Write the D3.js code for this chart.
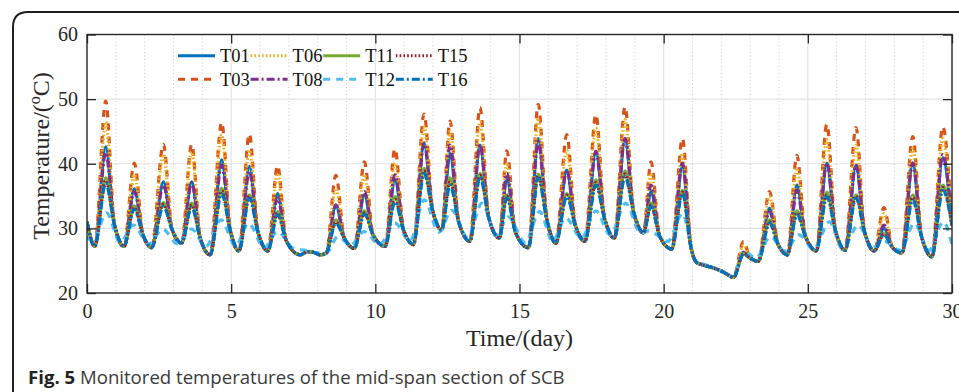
<!DOCTYPE html>
<html><head><meta charset="utf-8">
<script src="https://cdn.jsdelivr.net/npm/d3@7"></script>
<style>html,body{margin:0;padding:0;background:#fff;overflow:hidden}</style>
</head><body>
<svg id="chart" width="959" height="392"></svg>
<script>
// ---------------- DATA ----------------
const keyTimes = [0,0.27,0.65,0.95,1.28,1.64,1.94,2.24,2.65,2.95,3.28,3.63,3.93,4.27,4.67,4.97,5.27,5.63,5.93,6.27,6.61,6.91,
  7.39,7.65,7.85,8.1,8.3,8.63,8.93,9.27,9.62,9.92,10.34,10.68,10.98,11.32,11.69,11.99,12.30,12.59,12.89,13.28,13.63,13.93,
  14.30,14.56,14.86,15.31,15.65,15.95,16.26,16.64,16.94,17.27,17.65,17.95,18.29,18.66,18.96,19.30,19.56,19.86,20.28,20.65,20.95,
  21.15,21.4,21.78,22.0,22.2,22.42,22.77,23.0,23.28,23.67,23.97,24.29,24.62,24.92,25.29,25.66,25.96,26.29,26.67,26.97,
  27.30,27.64,27.94,28.26,28.64,28.94,29.30,29.68,30.0];
// shared trough / evening values (null = daily peak, taken from each series' peak list)
const sharedTemps = [31.0,27.2,null,30.6,27.2,null,29.0,27.0,null,29.8,27.7,null,28.4,25.9,null,29.6,26.5,null,29.4,26.5,null,28.1,
  25.9,26.4,26.3,25.9,26.2,null,28.4,26.9,null,29.0,27.2,null,29.7,27.5,null,32.7,29.75,null,31.0,28.0,null,31.7,
  28.5,null,29.4,27.0,null,31.3,27.7,null,30.4,28.0,null,31.5,28.5,null,32.5,29.3,null,28.8,26.8,null,27.0,
  24.7,24.3,23.8,23.4,22.9,22.4,null,25.4,24.9,null,27.5,25.9,null,28.7,26.5,null,29.6,26.6,null,29.4,
  26.5,null,27.0,26.2,null,28.8,25.6,null,30.5];
const peakT01 = [42.6,36.1,37.2,37.2,40.6,39.6,35.4,33.6,35.2,37.5,43.2,41.6,42.9,37.8,43.9,39.0,41.9,43.9,35.7,39.6,26.3,33.1,36.7,40.1,39.8,30.0,40.1,40.9];
const peakT03 = [49.7,40.1,43.0,43.0,46.4,44.6,39.7,38.2,40.3,42.3,47.7,46.6,48.7,42.0,49.2,44.5,47.6,48.8,40.3,43.9,28.0,35.7,41.3,46.1,45.6,33.2,44.2,45.7];
const peakT06 = [46.5,38.3,41.4,41.8,44.5,42.1,38.5,36.2,38.3,40.1,45.7,45.0,46.5,40.1,47.0,42.1,45.5,46.8,38.5,41.6,27.4,34.9,39.3,43.7,42.9,32.3,42.4,43.9];
const peakT08 = [41.7,35.7,36.7,37.1,39.8,38.8,34.7,33.6,35.7,38.3,43.2,42.9,42.9,38.5,43.4,39.0,41.9,43.9,36.7,40.1,26.3,32.6,35.9,40.1,39.8,30.5,40.1,41.4];
const peakT11 = [37.8,33.5,34.0,33.9,36.2,35.2,32.6,31.3,32.7,34.9,39.3,37.8,38.5,35.2,38.4,35.4,37.5,38.9,33.9,35.9,26.1,31.3,32.7,35.6,35.2,29.2,35.2,36.7];
const peakT15 = [37.4,33.2,33.7,33.6,35.8,35.0,32.4,31.0,32.4,34.5,38.9,37.2,38.2,35.0,38.1,35.1,37.1,38.4,33.6,35.6,26.1,31.0,32.4,35.2,35.0,29.1,34.8,36.3];
const peakT16 = [37.0,33.0,33.4,33.3,35.4,34.7,32.1,30.8,32.2,34.1,38.5,36.7,38.0,34.7,37.8,34.9,36.7,38.0,33.4,35.4,26.0,30.8,32.1,34.9,34.7,29.0,34.4,35.9];
// T12 has its own smoother, lower curve
const timesT12 = [0,0.2,0.68,1.15,1.6,2.15,2.62,3.15,3.62,4.12,4.65,5.15,5.6,6.15,6.6,7.2,7.6,8.0,8.3,8.7,9.15,9.6,10.15,10.68,
  11.2,11.7,12.2,12.65,13.2,13.7,14.2,14.6,15.2,15.7,16.15,16.6,17.15,17.65,18.15,18.68,19.2,19.5,20.15,20.65,21.1,21.5,21.8,
  22.1,22.4,22.8,23.2,23.7,24.2,24.7,25.2,25.75,26.2,26.75,27.25,27.65,28.2,28.7,29.2,29.7,30.0];
const tempsT12 = [28.7,28.0,32.4,27.8,30.5,27.6,29.9,27.6,29.9,27.2,31.3,27.3,30.8,27.0,29.5,26.8,26.6,26.2,26.2,28.7,27.4,29.5,27.5,30.8,
  28.0,34.4,29.4,32.8,28.6,33.9,28.8,31.8,27.8,32.6,28.0,31.6,28.5,32.7,29.0,33.9,29.3,29.6,28.0,32.3,25.0,24.3,23.8,
  23.1,22.6,26.4,25.4,28.7,26.5,29.0,26.8,31.0,26.8,30.5,27.0,28.0,26.6,30.8,26.6,31.0,27.4];

const seriesNames = ["T01","T03","T06","T08","T11","T12","T15","T16"];
const seriesColors = ["#0072BD","#D95319","#EDB120","#7E2F8E","#77AC30","#4DBEEE","#A2142F","#0072BD"];
const legendRows = [["T01","T06","T11","T15"],["T03","T08","T12","T16"]];
const xTicks = [0,5,10,15,20,25,30];
const yTicks = [20,30,40,50,60];
const xMinor = d3.range(0,31,1);
const xLabel = "Time/(day)";
const caption = ["Fig. 5", " Monitored temperatures of the mid-span section of SCB"];

// ---------------- BUILD ----------------
function buildMain(peaks){
  let k = 0;
  return keyTimes.map((t,i)=>({t, v: sharedTemps[i]===null ? peaks[k++] : sharedTemps[i]}));
}
const seriesData = {
  T01: buildMain(peakT01), T03: buildMain(peakT03), T06: buildMain(peakT06), T08: buildMain(peakT08),
  T11: buildMain(peakT11), T15: buildMain(peakT15), T16: buildMain(peakT16),
  T12: timesT12.map((t,i)=>({t, v: tempsT12[i]}))
};
const dashes = {T01:null, T03:"7,6", T06:"1.6,2.2", T08:"8,3,2,3", T11:null, T12:"7,6", T15:"1.6,2.2", T16:"8,3,2,3"};

// ---------------- DRAW ----------------
const svg = d3.select("#chart");
const L=87, R=952, T=34.5, B=293;
const x = d3.scaleLinear().domain([0,30]).range([L,R]);
const y = d3.scaleLinear().domain([20,60]).range([B,T]);
const serif = "'Liberation Serif','Times New Roman',serif";

// outer frame
svg.append("path").attr("d","M13,400 L13,27 Q13,12 28,12 L970,12")
  .attr("fill","none").attr("stroke","#1e1e1e").attr("stroke-width",2);

// grid
const g = svg.append("g");
g.selectAll(".minor").data(xMinor.filter(d=>d%5!==0)).join("line")
  .attr("x1",d=>x(d)).attr("x2",d=>x(d)).attr("y1",T).attr("y2",B)
  .attr("stroke","#cccccc").attr("stroke-width",1).attr("stroke-dasharray","1,2.5");
g.selectAll(".mx").data(xTicks.slice(1,-1)).join("line")
  .attr("x1",d=>x(d)).attr("x2",d=>x(d)).attr("y1",T).attr("y2",B)
  .attr("stroke","#e3e3e3").attr("stroke-width",1.2);
g.selectAll(".my").data(yTicks.slice(1,-1)).join("line")
  .attr("x1",L).attr("x2",R).attr("y1",d=>y(d)).attr("y2",d=>y(d))
  .attr("stroke","#e3e3e3").attr("stroke-width",1.2);

// clip
svg.append("defs").append("clipPath").attr("id","clip")
  .append("rect").attr("x",L).attr("y",T).attr("width",R-L).attr("height",B-T);

const line = d3.line().x(d=>x(d.t)).y(d=>y(d.v)).curve(d3.curveMonotoneX);
const lines = svg.append("g").attr("clip-path","url(#clip)");
seriesNames.forEach((n,i)=>{
  lines.append("path").datum(seriesData[n]).attr("d",line)
    .attr("fill","none").attr("stroke",seriesColors[i]).attr("stroke-width",3.2)
    .attr("stroke-linejoin","round")
    .attr("stroke-dasharray",dashes[n]);
});

// axes
const tickStyle = sel => {
  sel.select(".domain").remove();
  sel.selectAll(".tick line").attr("stroke","#262626").attr("stroke-width",1.3);
  sel.selectAll("text").attr("fill","#262626").style("font-family",serif).style("font-size","20px");
};
svg.append("g").attr("transform",`translate(0,${B})`)
  .call(d3.axisBottom(x).tickValues(xTicks).tickSize(-9).tickPadding(11).tickFormat(d3.format("d"))).call(tickStyle);
svg.append("g").attr("transform",`translate(0,${T})`)
  .call(d3.axisTop(x).tickValues(xTicks).tickSize(-9).tickFormat("")).call(tickStyle);
svg.append("g").attr("transform",`translate(${L},0)`)
  .call(d3.axisLeft(y).tickValues(yTicks).tickSize(-9).tickPadding(9).tickFormat(d3.format("d"))).call(tickStyle);
svg.append("g").attr("transform",`translate(${R},0)`)
  .call(d3.axisRight(y).tickValues(yTicks).tickSize(-9).tickFormat("")).call(tickStyle);
svg.append("rect").attr("x",L).attr("y",T).attr("width",R-L).attr("height",B-T)
  .attr("fill","none").attr("stroke","#262626").attr("stroke-width",1.4);

// axis labels
svg.append("text").attr("x",(L+R)/2).attr("y",346).attr("text-anchor","middle")
  .style("font-family",serif).style("font-size","24px").attr("fill","#262626").text(xLabel);
const yl = svg.append("text").attr("transform",`translate(49,156) rotate(-90)`).attr("text-anchor","middle")
  .style("font-family",serif).style("font-size","24px").attr("fill","#262626");
yl.append("tspan").text("Temperature/(");
yl.append("tspan").attr("dy",-9).style("font-size","16px").text("o");
yl.append("tspan").attr("dy",9).text("C)");

// legend
const lg = svg.append("g");
legendRows.forEach((row,r)=>{
  row.forEach((n,c)=>{
    const i = seriesNames.indexOf(n);
    const lx = 178 + c*72.6, ly = 55.7 + r*23.6;
    lg.append("line").attr("x1",lx).attr("x2",lx+37).attr("y1",ly).attr("y2",ly)
      .attr("stroke",seriesColors[i]).attr("stroke-width",3).attr("stroke-dasharray",dashes[n]);
    lg.append("text").attr("x",lx+42).attr("y",ly+6.5).style("font-family",serif).style("font-size","18.5px")
      .attr("fill","#111").text(n);
  });
});

// caption
const cap = svg.append("text").attr("x",28).attr("y",384).style("font-family","'Open Sans','Noto Sans',sans-serif")
  .style("font-size","18.6px").attr("fill","#3a3a3a");
cap.append("tspan").style("font-weight","bold").attr("fill","#222").text(caption[0]);
cap.append("tspan").text(caption[1]);
</script>
</body></html>
